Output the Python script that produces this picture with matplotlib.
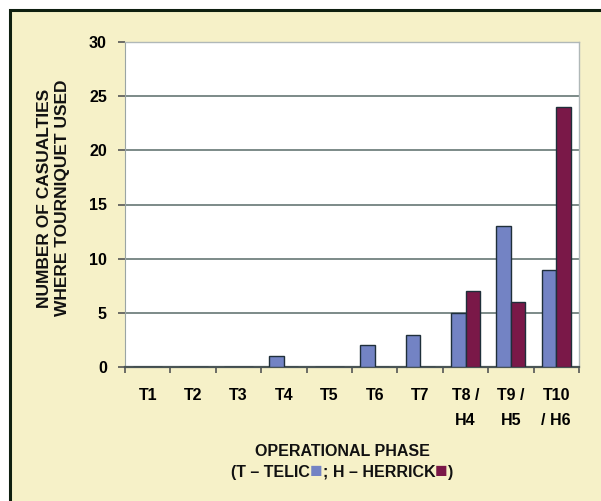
import numpy as np
import matplotlib.pyplot as plt
from matplotlib.patches import Rectangle
from matplotlib.offsetbox import TextArea, HPacker, AnchoredOffsetbox

phases = ["T1", "T2", "T3", "T4", "T5", "T6", "T7", "T8 /\nH4", "T9 /\nH5", "T10\n/ H6"]
telic = [0, 0, 0, 1, 0, 2, 3, 5, 13, 9]
herrick = [0, 0, 0, 0, 0, 0, 0, 7, 6, 24]
y_ticks = [0, 5, 10, 15, 20, 25, 30]

TELIC_COLOR = "#7383C4"
HERRICK_COLOR = "#7A1848"
EDGE = "#1F2F3A"
PANEL = "#F6F1C8"

plt.rcParams["font.family"] = ["Liberation Sans", "DejaVu Sans"]
plt.rcParams["font.weight"] = "bold"

fig = plt.figure(figsize=(6.01, 5.01), dpi=100)
fig.patch.set_facecolor("white")

# pale yellow panel with dark frame
fig.patches.append(Rectangle((10 / 601, -0.01), 1.0, 1.01 - 10 / 501, transform=fig.transFigure,
                             facecolor=PANEL, edgecolor="#0F1F10", linewidth=2.2, zorder=-1))

ax = fig.add_axes([125 / 601, 1 - 367 / 501, (579 - 125) / 601, (367 - 42) / 501])
ax.set_facecolor("white")

x = np.arange(len(phases))
w = 0.32
ax.bar(x - w / 2, telic, w, color=TELIC_COLOR, edgecolor=EDGE, linewidth=1.0, zorder=3)
ax.bar(x + w / 2, herrick, w, color=HERRICK_COLOR, edgecolor=EDGE, linewidth=1.0, zorder=3)

ax.set_xlim(-0.5, len(phases) - 0.5)
ax.set_ylim(0, 30)
ax.set_yticks(y_ticks)
ax.set_yticklabels([str(v) for v in y_ticks], fontsize=11.5, fontweight="bold")
ax.yaxis.grid(True, color="#7C8A88", linewidth=1.4)
ax.set_axisbelow(True)

ax.set_xticks(x)
ax.set_xticklabels(phases, fontsize=11.5, fontweight="bold", linespacing=1.85, va="top")
ax.set_xticks(np.arange(len(phases) + 1) - 0.5, minor=True)
ax.tick_params(axis="x", which="major", length=0, pad=15)
ax.tick_params(axis="x", which="minor", length=4, width=1.2, color="#555555")
ax.tick_params(axis="y", length=5, width=1.2, color="#555555", pad=8)

for side in ["top", "right"]:
    ax.spines[side].set_color("#B0B8B8")
    ax.spines[side].set_linewidth(1.0)
ax.spines["left"].set_color("#9AA5A5")
ax.spines["bottom"].set_color("#4A5555")
ax.spines["bottom"].set_linewidth(1.6)

fig.text(54 / 601, 1 - 198 / 501, "NUMBER OF CASUALTIES\nWHERE TOURNIQUET USED",
         rotation=90, ha="center", va="center", fontsize=12.5, fontweight="bold",
         linespacing=1.25, color="#111111")

fig.text(342 / 601, 1 - 451 / 501, "OPERATIONAL PHASE", ha="center", va="center",
         fontsize=11.5, fontweight="bold", color="#111111")

tp = dict(fontsize=11.5, fontweight="bold", color="#111111")
parts = [
    TextArea("(T – TELIC", textprops=tp),
    TextArea("■", textprops=dict(fontsize=15, color=TELIC_COLOR)),
    TextArea("; H – HERRICK", textprops=tp),
    TextArea("■", textprops=dict(fontsize=15, color=HERRICK_COLOR)),
    TextArea(")", textprops=tp),
]
box = HPacker(children=parts, align="center", pad=0, sep=0)
anch = AnchoredOffsetbox(loc="center", child=box, frameon=False,
                         bbox_to_anchor=(342 / 601, 1 - 472 / 501),
                         bbox_transform=fig.transFigure, borderpad=0, pad=0)
fig.add_artist(anch)

fig.savefig("out.png", dpi=100, facecolor=fig.get_facecolor())
